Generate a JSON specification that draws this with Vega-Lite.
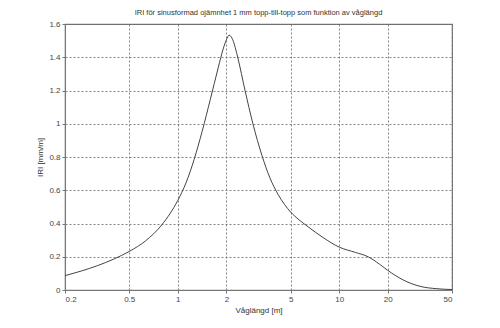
{
  "$schema": "https://vega.github.io/schema/vega-lite/v6.json",
  "width": 387,
  "height": 266,
  "autosize": {"type": "none"},
  "padding": {"left": 65, "top": 24, "right": 48, "bottom": 38},
  "background": "white",
  "title": {
    "text": "IRI för sinusformad ojämnhet 1 mm topp-till-topp som funktion av våglängd",
    "font": "Liberation Sans",
    "fontSize": 7.5,
    "fontWeight": "normal",
    "color": "#333",
    "offset": 4,
    "anchor": "middle"
  },
  "config": {
    "view": {"stroke": "#777", "strokeWidth": 1.2},
    "axis": {
      "labelFont": "Liberation Sans",
      "labelFontSize": 8,
      "labelColor": "#444",
      "titleFont": "Liberation Sans",
      "titleFontSize": 8,
      "titleFontWeight": "normal",
      "titleColor": "#333",
      "grid": true,
      "gridColor": "#666",
      "gridDash": [2, 2],
      "gridWidth": 0.8,
      "domainColor": "#777",
      "tickColor": "#777",
      "tickSize": 3,
      "labelPadding": 2
    }
  },
  "data": {
    "values": [
      {"wavelength": 0.2, "iri": 0.086},
      {"wavelength": 0.252, "iri": 0.114},
      {"wavelength": 0.317, "iri": 0.146},
      {"wavelength": 0.399, "iri": 0.185},
      {"wavelength": 0.5, "iri": 0.232},
      {"wavelength": 0.632, "iri": 0.296},
      {"wavelength": 0.796, "iri": 0.392},
      {"wavelength": 1.0, "iri": 0.539},
      {"wavelength": 1.125, "iri": 0.645},
      {"wavelength": 1.262, "iri": 0.785},
      {"wavelength": 1.416, "iri": 0.955},
      {"wavelength": 1.589, "iri": 1.145},
      {"wavelength": 1.783, "iri": 1.34},
      {"wavelength": 1.91, "iri": 1.45},
      {"wavelength": 2.0, "iri": 1.505},
      {"wavelength": 2.08, "iri": 1.533},
      {"wavelength": 2.19, "iri": 1.505},
      {"wavelength": 2.35, "iri": 1.4},
      {"wavelength": 2.61, "iri": 1.2},
      {"wavelength": 2.92, "iri": 1.0},
      {"wavelength": 3.32, "iri": 0.81},
      {"wavelength": 3.72, "iri": 0.675},
      {"wavelength": 4.18, "iri": 0.575},
      {"wavelength": 4.58, "iri": 0.515},
      {"wavelength": 5.0, "iri": 0.469},
      {"wavelength": 5.64, "iri": 0.422},
      {"wavelength": 6.32, "iri": 0.385},
      {"wavelength": 7.96, "iri": 0.315},
      {"wavelength": 10, "iri": 0.258},
      {"wavelength": 12.6, "iri": 0.226},
      {"wavelength": 15.1, "iri": 0.2},
      {"wavelength": 17.8, "iri": 0.155},
      {"wavelength": 20, "iri": 0.118},
      {"wavelength": 25.2, "iri": 0.058},
      {"wavelength": 31.7, "iri": 0.022},
      {"wavelength": 39.9, "iri": 0.008},
      {"wavelength": 50, "iri": 0.003}
    ]
  },
  "mark": {"type": "line", "color": "#444", "strokeWidth": 1, "interpolate": "monotone"},
  "encoding": {
    "x": {
      "field": "wavelength",
      "type": "quantitative",
      "scale": {"type": "log", "domain": [0.2, 50], "nice": false},
      "axis": {
        "title": "Våglängd [m]",
        "values": [0.2, 0.5, 1, 2, 5, 10, 20, 50],
        "format": "~g",
        "titlePadding": 3
      }
    },
    "y": {
      "field": "iri",
      "type": "quantitative",
      "scale": {"domain": [0, 1.6], "nice": false},
      "axis": {
        "title": "IRI [mm/m]",
        "values": [0, 0.2, 0.4, 0.6, 0.8, 1, 1.2, 1.4, 1.6],
        "format": ".1~f",
        "titlePadding": 4
      }
    }
  }
}
